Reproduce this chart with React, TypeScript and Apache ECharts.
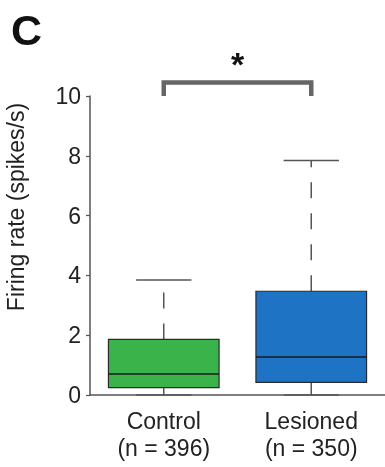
import React, { useEffect, useRef } from "react";
import * as echarts from "echarts";

const categories = ["Control\n(n = 396)", "Lesioned\n(n = 350)"];
const whiskerLow = [0, 0];
const q1 = [0.25, 0.42];
const median = [0.7, 1.27];
const q3 = [1.86, 3.47];
const whiskerHigh = [3.85, 7.84];
const boxColors = ["#3AB44A", "#1F73C4"];
const yTicks = { min: 0, max: 10, interval: 2 };

export default function App() {
  const ref = useRef<HTMLDivElement>(null);
  useEffect(() => {
    if (!ref.current) return;
    const chart = echarts.init(ref.current, undefined, { renderer: "svg" });
    const font = "Arial, 'Liberation Sans', Helvetica, sans-serif";
    const data = categories.map((_, i) => [i, whiskerLow[i], q1[i], median[i], q3[i], whiskerHigh[i]]);
    chart.setOption({
      animation: false,
      grid: { left: 90, right: 0, top: 96, bottom: 72 },
      xAxis: {
        type: "category",
        data: categories,
        boundaryGap: true,
        axisLine: { lineStyle: { color: "#555", width: 1.5 } },
        axisTick: { show: false },
        axisLabel: { color: "#222", fontSize: 23, fontFamily: font, lineHeight: 27, margin: 12 },
      },
      yAxis: {
        type: "value",
        min: yTicks.min,
        max: yTicks.max,
        interval: yTicks.interval,
        splitLine: { show: false },
        axisLine: { show: true, lineStyle: { color: "#555", width: 1.5 } },
        axisTick: { show: true, length: 4, lineStyle: { color: "#555", width: 1.2 } },
        axisLabel: { color: "#222", fontSize: 23, fontFamily: font, margin: 9 },
      },
      series: [
        {
          type: "custom",
          data,
          renderItem: (params: any, api: any) => {
            const idx = api.value(0);
            const x = api.coord([idx, 0])[0];
            const bw = api.size([1, 0])[0] * 0.75;
            const cw = bw * 0.5;
            const yMin = api.coord([idx, api.value(1)])[1];
            const yQ1 = api.coord([idx, api.value(2)])[1];
            const yMed = api.coord([idx, api.value(3)])[1];
            const yQ3 = api.coord([idx, api.value(4)])[1];
            const yMax = api.coord([idx, api.value(5)])[1];
            const wStyle = { stroke: "#555", lineWidth: 1.5 };
            return {
              type: "group",
              children: [
                { type: "line", shape: { x1: x, y1: yQ3, x2: x, y2: yMax }, style: { ...wStyle, lineDash: [16, 15] } },
                { type: "line", shape: { x1: x, y1: yQ1, x2: x, y2: yMin }, style: { ...wStyle, lineDash: [16, 15] } },
                { type: "line", shape: { x1: x - cw / 2, y1: yMax, x2: x + cw / 2, y2: yMax }, style: wStyle },
                { type: "line", shape: { x1: x - cw / 2, y1: yMin, x2: x + cw / 2, y2: yMin }, style: wStyle },
                {
                  type: "rect",
                  shape: { x: x - bw / 2, y: yQ3, width: bw, height: yQ1 - yQ3 },
                  style: { fill: boxColors[idx], stroke: "#2a2a2a", lineWidth: 1.2 },
                },
                { type: "line", shape: { x1: x - bw / 2, y1: yMed, x2: x + bw / 2, y2: yMed }, style: { stroke: "#1a1a1a", lineWidth: 1.5 } },
              ],
            };
          },
        },
      ],
    });
    const xa = chart.convertToPixel({ xAxisIndex: 0 }, 0) as number;
    const xb = chart.convertToPixel({ xAxisIndex: 0 }, 1) as number;
    chart.setOption({
      graphic: [
        { type: "text", left: 11, top: 8, style: { text: "C", font: `bold 43px ${font}`, fill: "#111" } },
        {
          type: "polyline",
          shape: { points: [[xa, 96], [xa, 82.5], [xb, 82.5], [xb, 96]] },
          style: { stroke: "#666", lineWidth: 4.5, fill: null },
        },
        {
          type: "text",
          x: (xa + xb) / 2,
          y: 64,
          style: { text: "*", font: `bold 34px ${font}`, fill: "#111", textAlign: "center", textVerticalAlign: "middle" },
        },
        {
          type: "text",
          x: 16,
          y: 207,
          rotation: Math.PI / 2,
          style: { text: "Firing rate (spikes/s)", font: `23px ${font}`, fill: "#222", textAlign: "center", textVerticalAlign: "middle" },
        },
      ],
    });
    return () => chart.dispose();
  }, []);
  return <div ref={ref} style={{ position: "fixed", left: 0, top: 0, width: 385, height: 467 }} />;
}
